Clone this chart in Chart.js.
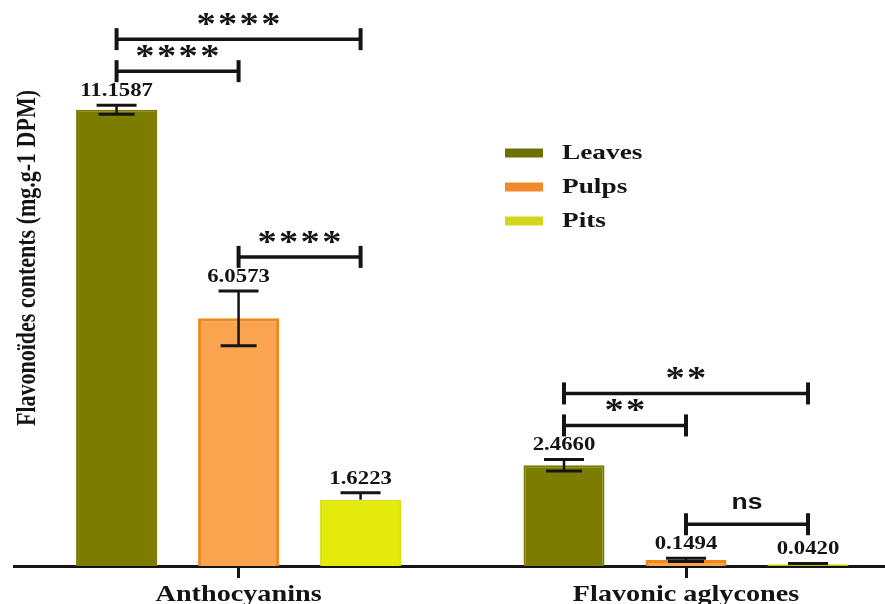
<!DOCTYPE html>
<html>
<head>
<meta charset="utf-8">
<script src="https://cdn.jsdelivr.net/npm/chart.js@4.4.1/dist/chart.umd.min.js"></script>
<style>
  html, body { margin: 0; padding: 0; background: #ffffff; overflow: hidden; }
  #wrap { width: 885px; height: 604px; overflow: hidden; position: relative; }
  #c { position: absolute; left: 0; top: 0; }
</style>
</head>
<body>
<div id="wrap"><canvas id="c" width="911" height="604"></canvas></div>
<script>
// Flavonoid contents by plant part (mean values and standard deviations)
const categories = ['Anthocyanins', 'Flavonic aglycones'];
const seriesNames = ['Leaves', 'Pulps', 'Pits'];
const leaves = [11.1587, 2.4660];
const pulps = [6.0573, 0.1494];
const pits = [1.6223, 0.0420];
const leavesSD = [0.11, 0.14];
const pulpsSD = [0.67, 0.04];
const pitsSD = [0.17, 0.02];
// pairwise comparisons: category index, first series, second series, significance
const compCategory = [0, 0, 0, 1, 1, 1];
const compFrom = [0, 0, 1, 0, 0, 1];
const compTo = [1, 2, 2, 1, 2, 2];
const compLabel = ['****', '****', '****', '**', '**', 'ns'];
const yTitle = 'Flavonoïdes contents (mg.g-1 DPM)';

const INK = '#141414';
const SERIF = '"Liberation Serif", "Times New Roman", serif';
const SANS = '"Liberation Sans", Arial, sans-serif';

function wideText(ctx, text, x, y, font, sx, align, spacing) {
  ctx.save();
  ctx.font = font;
  ctx.fillStyle = INK;
  ctx.textAlign = align || 'center';
  ctx.textBaseline = 'alphabetic';
  if (spacing) ctx.letterSpacing = spacing;
  ctx.translate(x, y);
  ctx.scale(sx, 1);
  ctx.fillText(text, 0, 0);
  ctx.restore();
}

function seg(ctx, x1, y1, x2, y2, w) {
  ctx.lineWidth = w;
  ctx.beginPath();
  ctx.moveTo(x1, y1);
  ctx.lineTo(x2, y2);
  ctx.stroke();
}

// error bars, value labels and significance brackets
const annotations = {
  id: 'annotations',
  afterDatasetsDraw(chart) {
    const ctx = chart.ctx;
    const ys = chart.scales.y;
    const errTop = [];
    ctx.save();
    ctx.strokeStyle = INK;
    ctx.lineCap = 'butt';
    chart.data.datasets.forEach((ds, di) => {
      const meta = chart.getDatasetMeta(di);
      errTop[di] = [];
      meta.data.forEach((bar, i) => {
        const v = ds.data[i];
        const sd = ds.sd[i];
        const x = bar.x;
        const yT = ys.getPixelForValue(v + sd);
        const yV = ys.getPixelForValue(v);
        const yB = ys.getPixelForValue(v - sd);
        errTop[di][i] = yT;
        seg(ctx, x, yT, x, ds.lowerWhisker ? yB : yV, 2.5);
        seg(ctx, x - 20, yT, x + 20, yT, 3);
        if (ds.lowerWhisker) seg(ctx, x - 18, yB, x + 18, yB, 3);
        wideText(ctx, v.toFixed(4), x, yT - 9, 'bold 19px ' + SERIF, 1.2);
      });
    });

    // brackets: shorter spans first, longer ones stacked above them
    const order = compLabel.map((_, k) => k)
      .sort((a, b) => (compTo[a] - compFrom[a]) - (compTo[b] - compFrom[b]));
    const placed = [];
    order.forEach(k => {
      const c = compCategory[k], a = compFrom[k], b = compTo[k];
      let yb = Infinity;
      for (let s = a; s <= b; s++) yb = Math.min(yb, errTop[s][c] - 34);
      placed.forEach(p => {
        if (p.c === c && p.a >= a && p.b <= b) yb = Math.min(yb, p.y - 32);
      });
      placed.push({ c, a, b, y: yb });
      const xa = chart.getDatasetMeta(a).data[c].x;
      const xb = chart.getDatasetMeta(b).data[c].x;
      seg(ctx, xa, yb, xb, yb, 3.5);
      seg(ctx, xa, yb - 11, xa, yb + 11, 4);
      seg(ctx, xb, yb - 11, xb, yb + 11, 4);
      const xm = (xa + xb) / 2;
      if (compLabel[k] === 'ns') {
        wideText(ctx, 'ns', xm, yb - 15, 'bold 22px ' + SANS, 1.2, 'center');
      } else {
        wideText(ctx, compLabel[k], xm + 1, yb - 5, 'bold 32px ' + SERIF, 1.2, 'center', '2px');
      }
    });
    ctx.restore();
  },
  afterDraw(chart) {
    const ctx = chart.ctx;
    const xs = chart.scales.x;
    // category names under the axis
    chart.data.labels.forEach((lab, i) => {
      wideText(ctx, lab, xs.getPixelForValue(i), 601, 'bold 23.5px ' + SERIF, 1.2, 'center');
    });
    // y-axis title
    ctx.save();
    ctx.font = 'bold 22px ' + SERIF;
    ctx.fillStyle = INK;
    ctx.textAlign = 'center';
    ctx.textBaseline = 'middle';
    ctx.translate(28, 258);
    ctx.scale(1.2, 1);
    ctx.rotate(-Math.PI / 2);
    ctx.fillText(yTitle, 0, 0);
    ctx.restore();
    // legend
    chart.data.datasets.forEach((ds, i) => {
      const cy = 153 + i * 34;
      ctx.fillStyle = ds.legendColor;
      ctx.fillRect(505, cy - 4.5, 38, 9);
      wideText(ctx, ds.label, 562, cy + 6, 'bold 21px ' + SERIF, 1.3, 'left');
    });
  }
};

new Chart(document.getElementById('c'), {
  type: 'bar',
  data: {
    labels: categories,
    datasets: [
      { label: seriesNames[0], data: leaves, sd: leavesSD, lowerWhisker: true,
        backgroundColor: '#7c7c00', borderColor: '#7a7a02', borderWidth: 2,
        legendColor: '#6f6f00' },
      { label: seriesNames[1], data: pulps, sd: pulpsSD, lowerWhisker: true,
        backgroundColor: '#fba44f', borderColor: '#f2871c', borderWidth: 3,
        legendColor: '#f08a2c' },
      { label: seriesNames[2], data: pits, sd: pitsSD, lowerWhisker: false,
        backgroundColor: '#e4ea0c', borderColor: '#d9df0a', borderWidth: 2,
        legendColor: '#d2d61c' }
    ].map(d => Object.assign(d, { categoryPercentage: 0.818, barPercentage: 0.664 }))
  },
  options: {
    responsive: false,
    animation: false,
    devicePixelRatio: 1,
    layout: { padding: { left: 14.85, right: 1.25, top: 0, bottom: 0 } },
    plugins: {
      legend: { display: false },
      tooltip: { enabled: false },
      title: { display: false }
    },
    scales: {
      x: {
        z: 1,
        grid: { display: true, drawOnChartArea: false, drawTicks: true, tickLength: 12,
                offset: false, color: INK, lineWidth: 3 },
        border: { display: true, color: INK, width: 3 },
        ticks: { display: false },
        afterFit(scale) { scale.height = 38; }
      },
      y: { display: false, min: 0, max: 13.84 }
    }
  },
  plugins: [annotations]
});
</script>
</body>
</html>
